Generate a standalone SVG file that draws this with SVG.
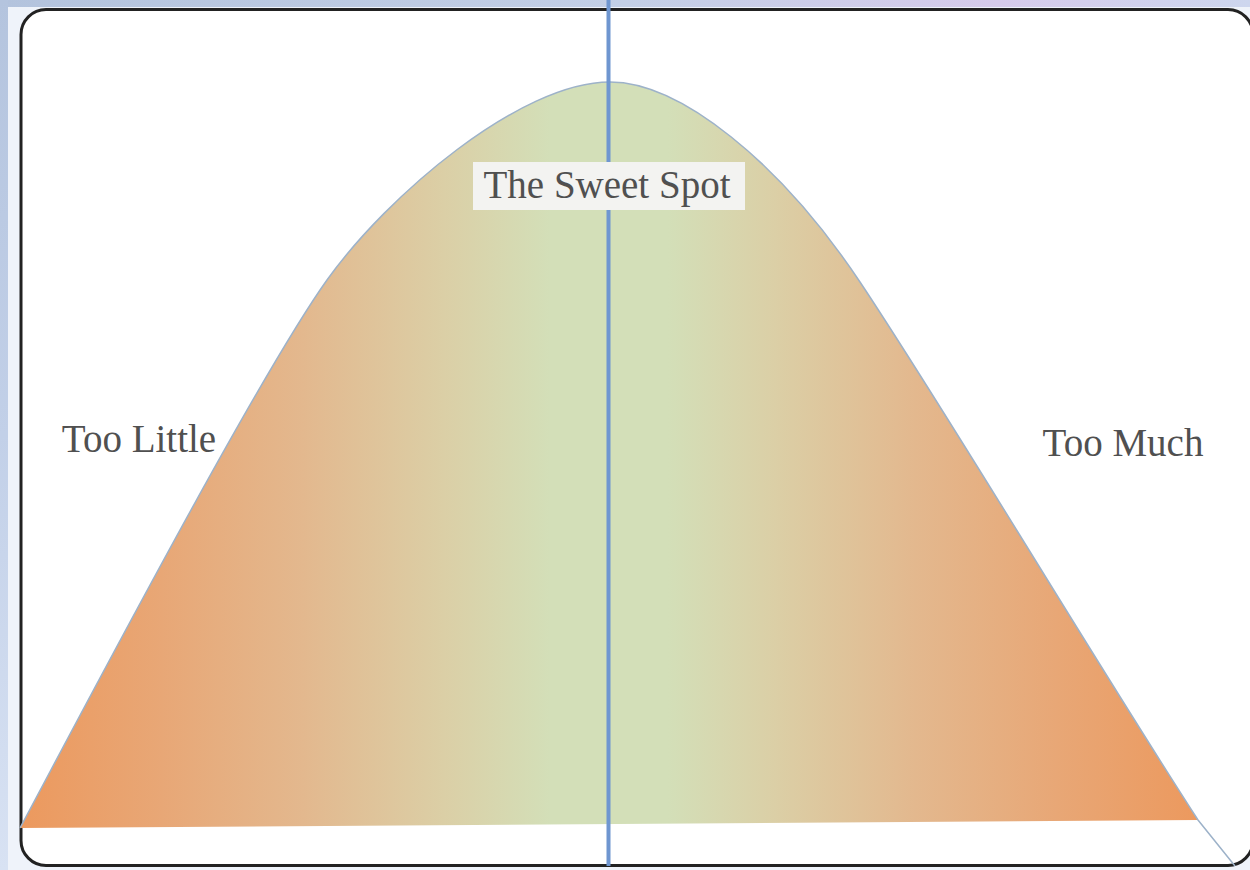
<svg xmlns="http://www.w3.org/2000/svg" width="1250" height="870" viewBox="0 0 1250 870">
  <defs>
    <linearGradient id="bellFill" gradientUnits="userSpaceOnUse" x1="20" y1="0" x2="1198" y2="0">
      <stop offset="0" stop-color="#ec995e"/>
      <stop offset="0.12" stop-color="#e8a776"/>
      <stop offset="0.24" stop-color="#e3b88e"/>
      <stop offset="0.36" stop-color="#dbcfa6"/>
      <stop offset="0.45" stop-color="#d3dfb8"/>
      <stop offset="0.55" stop-color="#d3dfb8"/>
      <stop offset="0.64" stop-color="#dbcfa6"/>
      <stop offset="0.76" stop-color="#e3b88e"/>
      <stop offset="0.88" stop-color="#e8a776"/>
      <stop offset="1" stop-color="#ec995e"/>
    </linearGradient>
    <linearGradient id="topStrip" gradientUnits="userSpaceOnUse" x1="0" y1="0" x2="1250" y2="0">
      <stop offset="0" stop-color="#b3c3dd"/>
      <stop offset="0.5" stop-color="#c3cfe6"/>
      <stop offset="0.8" stop-color="#d6cbeb"/>
      <stop offset="1" stop-color="#cdd6ee"/>
    </linearGradient>
    <linearGradient id="leftStrip" gradientUnits="userSpaceOnUse" x1="0" y1="0" x2="0" y2="870">
      <stop offset="0" stop-color="#b4c4de"/>
      <stop offset="0.5" stop-color="#c2d0e8"/>
      <stop offset="1" stop-color="#d8e2f3"/>
    </linearGradient>
    <style>
      .label { font-family: "Liberation Serif", "DejaVu Serif", serif; font-size: 39px; fill: #505050; text-anchor: middle; }
    </style>
  </defs>

  <g id="background">
    <rect x="0" y="0" width="1250" height="870" fill="#eff3fa"/>
    <rect x="0" y="0" width="1250" height="7" fill="url(#topStrip)"/>
    <rect x="0" y="0" width="8" height="870" fill="url(#leftStrip)"/>
  </g>

  <g id="frame">
    <rect x="21" y="9.5" width="1232" height="856" rx="25" ry="25" fill="#ffffff" stroke="#222222" stroke-width="3"/>
  </g>

  <g id="bell">
    <path d="M20,828 C80,716 257,378 327,280 C387,196 520,82 610,82 C680,82 780,162 860,282 C950,417 1088,650 1198,820 L20,828 Z" fill="url(#bellFill)"/>
    <path d="M20,828 C80,716 257,378 327,280 C387,196 520,82 610,82 C680,82 780,162 860,282 C950,417 1088,650 1198,820 L1235,866" fill="none" stroke="#9db2c9" stroke-width="1.5"/>
  </g>

  <g id="connectors">
    <line x1="608.5" y1="0" x2="608.5" y2="866" stroke="#6f96d0" stroke-width="4"/>
  </g>

  <g id="sweet-spot">
    <rect x="473" y="162" width="272" height="48" fill="#f3f3f1"/>
    <text class="label" x="607" y="198">The Sweet Spot</text>
  </g>

  <g id="too-little">
    <text class="label" x="139" y="452">Too Little</text>
  </g>

  <g id="too-much">
    <text class="label" x="1123" y="456">Too Much</text>
  </g>
</svg>
